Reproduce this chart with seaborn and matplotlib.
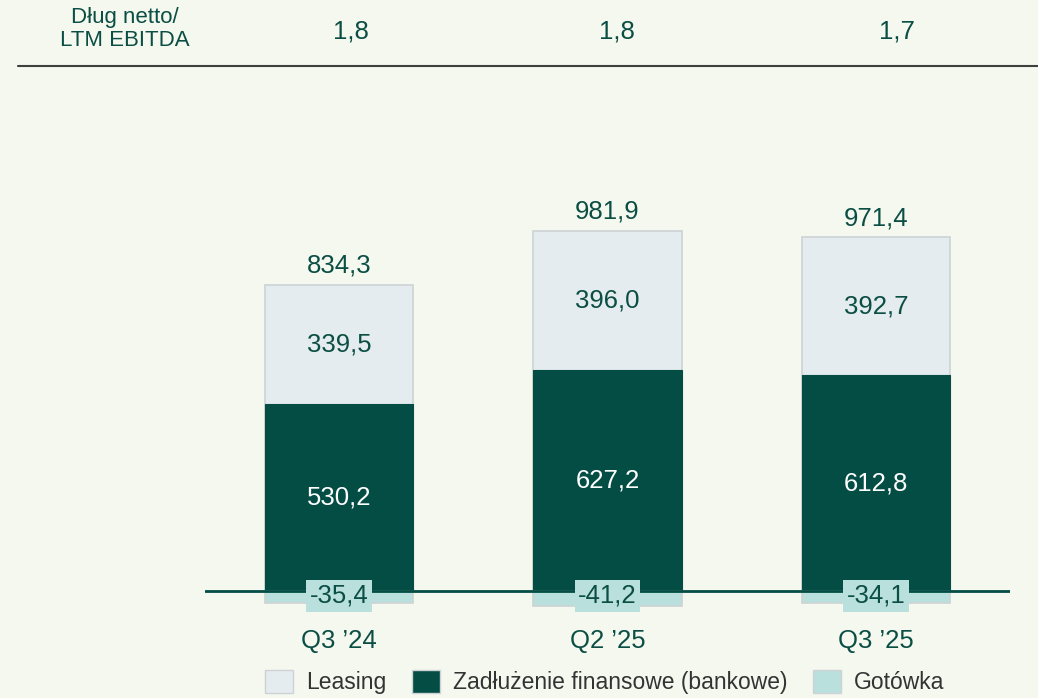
import matplotlib
matplotlib.use("Agg")
import matplotlib.pyplot as plt
import matplotlib.patches as mpatches
import pandas as pd
import seaborn as sns

# data
quarters = ["Q3 \u201924", "Q2 \u201925", "Q3 \u201925"]
leasing = [339.5, 396.0, 392.7]
debt = [530.2, 627.2, 612.8]
cash = [-35.4, -41.2, -34.1]
net_total = [834.3, 981.9, 971.4]
leverage = ["1,8", "1,8", "1,7"]

BG = "#F5F8EF"
DARK = "#034D44"
LEASE = "#E5ECEF"
CASH = "#B9E0DC"
TXT = "#0B4E44"
EDGE = "#CDD2D4"

df = pd.DataFrame({"q": quarters, "leasing": leasing, "debt": debt, "cash": cash})
df["gross"] = df["leasing"] + df["debt"]

sns.set_style("white")
plt.rcParams["font.family"] = ["Liberation Sans", "DejaVu Sans"]

fig = plt.figure(figsize=(10.38, 6.98), dpi=100, facecolor=BG)

# axes placed so that zero line sits at y~591px, x from 205 to 1010 px
ymin, ymax = -60, 1300
scale = 0.352  # px per unit
bottom_px = 591 + (-ymin) * scale
height_px = (ymax - ymin) * scale
ax = fig.add_axes([205 / 1038, (698 - bottom_px) / 698, 805 / 1038, height_px / 698])
ax.set_facecolor("none")

w = 0.552
sns.barplot(data=df, x="q", y="gross", color=LEASE, width=w, edgecolor=EDGE,
            linewidth=1.2, saturation=1, ax=ax)
sns.barplot(data=df, x="q", y="debt", color=DARK, width=w, edgecolor=DARK,
            linewidth=0.8, saturation=1, ax=ax)
sns.barplot(data=df, x="q", y="cash", color=CASH, width=w, edgecolor=EDGE,
            linewidth=1.2, saturation=1, ax=ax)

ax.axhline(0, color=DARK, lw=2, zorder=3)

fs = 18.5
for i in range(len(quarters)):
    ax.text(i, debt[i] + leasing[i] / 2, f"{leasing[i]:.1f}".replace(".", ","),
            ha="center", va="center", color=TXT, fontsize=fs)
    ax.text(i, debt[i] / 2, f"{debt[i]:.1f}".replace(".", ","),
            ha="center", va="center", color="white", fontsize=fs)
    ax.annotate(f"{net_total[i]:.1f}".replace(".", ","), (i, debt[i] + leasing[i]),
                xytext=(0, 5), textcoords="offset points",
                ha="center", va="bottom", color=TXT, fontsize=fs)
    ax.text(i, -14, f"{cash[i]:.1f}".replace(".", ","), ha="center", va="center",
            color=TXT, fontsize=fs, zorder=5,
            bbox=dict(boxstyle="square,pad=0.14", fc=CASH, ec="none"))

ax.set_xlim(-0.5, 2.5)
ax.set_ylim(ymin, ymax)
ax.set_xlabel("")
ax.set_ylabel("")
ax.set_yticks([])
ax.tick_params(axis="x", length=0, pad=12, labelsize=fs, labelcolor=TXT)
sns.despine(ax=ax, left=True, bottom=True)

# header row
fig.text(125 / 1038, 1 - 29 / 698, "D\u0142ug netto/\nLTM EBITDA", ha="center", va="center",
         color=TXT, fontsize=16, linespacing=1.1)
for xp, val in zip([351, 617, 897], leverage):
    fig.text(xp / 1038, 1 - 31 / 698, val, ha="center", va="center", color=TXT, fontsize=fs)
fig.add_artist(plt.Line2D([18 / 1038, 1], [1 - 66 / 698, 1 - 66 / 698], color="#3F3F3F", lw=1.5))

handles = [
    mpatches.Patch(facecolor=LEASE, edgecolor=EDGE, label="Leasing"),
    mpatches.Patch(facecolor=DARK, edgecolor=EDGE, label="Zad\u0142u\u017cenie finansowe (bankowe)"),
    mpatches.Patch(facecolor=CASH, edgecolor=EDGE, label="Got\u00f3wka"),
]
leg = fig.legend(handles=handles, loc="center", bbox_to_anchor=(605 / 1038, 1 - 682 / 698),
                 ncol=3, frameon=False, fontsize=16.5, handlelength=1.2, handleheight=1.2,
                 handletextpad=0.6, columnspacing=1.1)
for t in leg.get_texts():
    t.set_color("#333333")

fig.savefig("out.png", dpi=100, facecolor=BG)
